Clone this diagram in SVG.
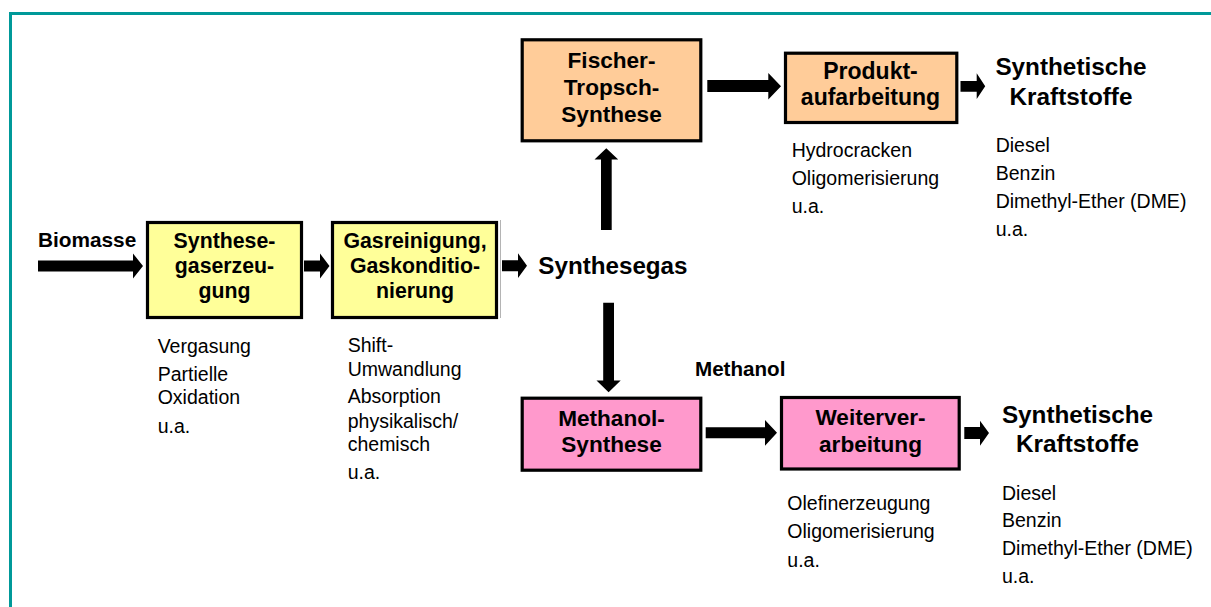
<svg xmlns="http://www.w3.org/2000/svg" width="1211" height="607" viewBox="0 0 1211 607">
<style>
.box{stroke:#000;stroke-width:3.2}
.yel{fill:#FFFF99}
.org{fill:#FFCC99}
.pnk{fill:#FF99CC}
.bt{font-family:"Liberation Sans",Arial,sans-serif;font-weight:bold;fill:#000;text-anchor:middle}
.lbl{font-family:"Liberation Sans",Arial,sans-serif;font-weight:bold;fill:#000}
.desc{font-family:"Liberation Sans",Arial,sans-serif;font-size:19.5px;fill:#000}
.arr{fill:#000}
</style>
<rect width="1211" height="607" fill="#fff"/>
<path d="M10.5 607 V13.5 H1211" fill="none" stroke="#009999" stroke-width="3"/>
<line x1="500.5" y1="220" x2="500.5" y2="318" stroke="#b4b4b4" stroke-width="1"/>

<g id="connectors">
<polygon class="arr" points="38,260.5 133,260.5 133,253.5 143,266 133,278.5 133,271.5 38,271.5"/>
<polygon class="arr" points="304,260.5 320,260.5 320,253.5 329.5,266 320,278.5 320,271.5 304,271.5"/>
<polygon class="arr" points="502,260.2 518,260.2 518,253.3 527,265.7 518,278 518,271.2 502,271.2"/>
<polygon class="arr" points="601,230 601,159.5 594.5,159.5 606.3,148.3 618.2,159.5 611.7,159.5 611.7,230"/>
<polygon class="arr" points="603.2,302.7 614,302.7 614,380.5 620.7,380.5 608.6,392.3 596.5,380.5 603.2,380.5"/>
<polygon class="arr" points="707.3,80 768.3,80 768.3,73 781,86.3 768.3,99.5 768.3,92 707.3,92"/>
<polygon class="arr" points="960.5,81 976.7,81 976.7,73.3 985.2,86.3 976.7,99 976.7,91.7 960.5,91.7"/>
<polygon class="arr" points="705.7,427.3 765,427.3 765,420 777,432.8 765,445.7 765,438.3 705.7,438.3"/>
<polygon class="arr" points="964.3,427 980,427 980,420.7 989,433 980,445.7 980,439 964.3,439"/>
</g>

<g id="biomasse">
<text class="lbl" x="38" y="247" font-size="20.8">Biomasse</text>
</g>

<g id="synthesegaserzeugung">
<rect class="box yel" x="147.5" y="222.5" width="154" height="95"/>
<text class="bt" font-size="21.3"><tspan x="224.5" y="248.3">Synthese-</tspan><tspan x="224.5" y="272.8">gaserzeu-</tspan><tspan x="224.5" y="297.5">gung</tspan></text>
<text class="desc"><tspan x="157.7" y="353.3">Vergasung</tspan><tspan x="157.7" y="381">Partielle</tspan><tspan x="157.7" y="404.3">Oxidation</tspan><tspan x="157.7" y="433.3">u.a.</tspan></text>
</g>

<g id="gasreinigung">
<rect class="box yel" x="332.5" y="222.5" width="164" height="95"/>
<text class="bt" font-size="21.3"><tspan x="415" y="248.3">Gasreinigung,</tspan><tspan x="415" y="272.8">Gaskonditio-</tspan><tspan x="415" y="297.5">nierung</tspan></text>
<text class="desc"><tspan x="347.7" y="351.7">Shift-</tspan><tspan x="347.7" y="375.7">Umwandlung</tspan><tspan x="347.7" y="403.3">Absorption</tspan><tspan x="347.7" y="427.7">physikalisch/</tspan><tspan x="347.7" y="451">chemisch</tspan><tspan x="347.7" y="479.3">u.a.</tspan></text>
</g>

<g id="synthesegas">
<text class="lbl" x="538.3" y="274" font-size="24.2">Synthesegas</text>
</g>

<g id="fischer-tropsch">
<rect class="box org" x="522.2" y="39.8" width="178.6" height="101"/>
<text class="bt" font-size="22.6"><tspan x="611.5" y="68.3">Fischer-</tspan><tspan x="611.5" y="94.5">Tropsch-</tspan><tspan x="611.5" y="121.5">Synthese</tspan></text>
</g>

<g id="produktaufarbeitung">
<rect class="box org" x="785.5" y="53.2" width="171.3" height="69.3"/>
<text class="bt" font-size="23"><tspan x="870.5" y="78.5">Produkt-</tspan><tspan x="870.5" y="105">aufarbeitung</tspan></text>
<text class="desc"><tspan x="791.7" y="156.7">Hydrocracken</tspan><tspan x="791.7" y="185">Oligomerisierung</tspan><tspan x="791.7" y="213.3">u.a.</tspan></text>
</g>

<g id="kraftstoffe-1">
<text class="bt" font-size="24.3"><tspan x="1071" y="75">Synthetische</tspan><tspan x="1071" y="105">Kraftstoffe</tspan></text>
<text class="desc"><tspan x="995.7" y="151.7">Diesel</tspan><tspan x="995.7" y="180">Benzin</tspan><tspan x="995.7" y="208.3">Dimethyl-Ether (DME)</tspan><tspan x="995.7" y="235.5">u.a.</tspan></text>
</g>

<g id="methanol-label">
<text class="lbl" x="695" y="375.7" font-size="20.6">Methanol</text>
</g>

<g id="methanol-synthese">
<rect class="box pnk" x="522.2" y="398.2" width="178.6" height="72"/>
<text class="bt" font-size="22.6"><tspan x="611.5" y="425.7">Methanol-</tspan><tspan x="611.5" y="451.7">Synthese</tspan></text>
</g>

<g id="weiterverarbeitung">
<rect class="box pnk" x="781.5" y="397.5" width="177.7" height="71.5"/>
<text class="bt" font-size="22.6"><tspan x="870.5" y="425">Weiterver-</tspan><tspan x="870.5" y="451.5">arbeitung</tspan></text>
<text class="desc"><tspan x="787.3" y="510">Olefinerzeugung</tspan><tspan x="787.3" y="538.3">Oligomerisierung</tspan><tspan x="787.3" y="566.7">u.a.</tspan></text>
</g>

<g id="kraftstoffe-2">
<text class="bt" font-size="24.3"><tspan x="1077.5" y="423.3">Synthetische</tspan><tspan x="1077.5" y="451.7">Kraftstoffe</tspan></text>
<text class="desc"><tspan x="1002" y="500">Diesel</tspan><tspan x="1002" y="526.7">Benzin</tspan><tspan x="1002" y="555">Dimethyl-Ether (DME)</tspan><tspan x="1002" y="583.3">u.a.</tspan></text>
</g>
</svg>
